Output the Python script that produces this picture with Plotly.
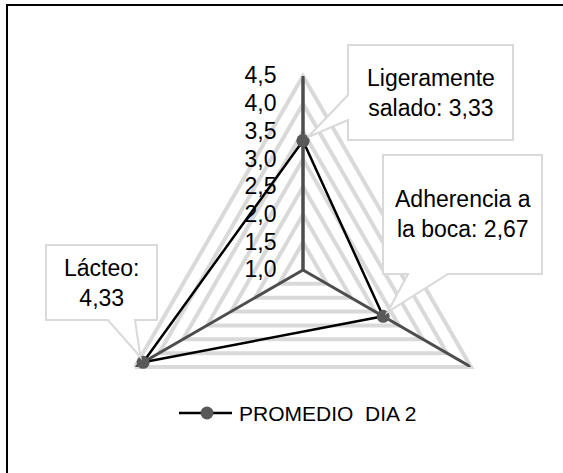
import math
import textwrap
import plotly.graph_objects as go

# ---- data ----
categories = ["Ligeramente salado", "Adherencia a la boca", "Lácteo"]
values = [3.33, 2.67, 4.33]
series_name = "PROMEDIO\u00a0 DIA 2"
r_min, r_max, r_step = 1.0, 4.5, 0.5

# ---- page / polar geometry (pixels) ----
W, H = 563, 473
cx, cy, R = 303, 270, 194

FONT = "Arial, Liberation Sans, sans-serif"
GRID = "#d9d9d9"
SPOKE = "#4d4d4d"
MARKER = "#595959"


def px_x(x):
    return x / W


def px_y(y):
    return 1 - y / H


def point_px(i, v):
    """Pixel position of value v on the i-th spoke (clockwise from top)."""
    theta = math.radians(90 - 360 * i / len(categories))
    r = (v - r_min) / (r_max - r_min) * R
    return cx + r * math.cos(theta), cy - r * math.sin(theta)


def fmt(v):
    return f"{v:.2f}".replace(".", ",")


fig = go.Figure()

# category spokes, drawn over the ring gridlines
spoke_r, spoke_t = [], []
for c in categories:
    spoke_r += [r_min, r_max, None]
    spoke_t += [c, c, c]
fig.add_trace(go.Scatterpolar(
    r=spoke_r, theta=spoke_t, mode="lines",
    line=dict(color=SPOKE, width=3),
    showlegend=False, hoverinfo="skip",
))

fig.add_trace(go.Scatterpolar(
    r=values + values[:1],
    theta=categories + categories[:1],
    mode="lines+markers",
    name=series_name,
    line=dict(color="#000000", width=2.5),
    marker=dict(color=MARKER, size=13, line=dict(width=0)),
    showlegend=False,
    hoverinfo="skip",
))

# ---- callouts: box with a pointer towards each point ----
# (box left, top, right, bottom), pointer side, pointer base span, wrap width
callouts = [
    ((348, 45, 513, 140), "left", (95, 120), 12),
    ((383, 155, 542, 274), "bottom", (408, 448), 13),
    ((46, 245, 157, 320), "bottom", (108, 135), 8),
]

shapes = []
annotations = []
for i, (box, side, (a, b), wrap) in enumerate(callouts):
    x0, y0, x1, y1 = box
    px, py = point_px(i, values[i])
    if side == "left":
        mx, my = x0, (a + b) / 2
    else:
        mx, my = (a + b) / 2, y1
    d = math.hypot(mx - px, my - py)
    tx, ty = px + 6 * (mx - px) / d, py + 6 * (my - py) / d
    if side == "left":
        pts = [(x0, y0), (x1, y0), (x1, y1), (x0, y1), (x0, b), (tx, ty), (x0, a)]
    else:
        pts = [(x0, y0), (x1, y0), (x1, y1), (b, y1), (tx, ty), (a, y1), (x0, y1)]
    path = "M " + " L ".join(f"{px_x(x):.5f},{px_y(y):.5f}" for x, y in pts) + " Z"
    shapes.append(dict(type="path", path=path, xref="paper", yref="paper",
                       line=dict(color=GRID, width=2), fillcolor="white",
                       layer="above"))
    label = "<br>".join(textwrap.wrap(f"{categories[i]}: {fmt(values[i])}", wrap))
    annotations.append(dict(text=label, x=px_x((x0 + x1) / 2), y=px_y((y0 + y1) / 2),
                            xref="paper", yref="paper", showarrow=False,
                            xanchor="center", yanchor="middle", align="center",
                            font=dict(family=FONT, size=23, color="#000000")))

# ---- legend ----
lg_y = 413
shapes.append(dict(type="line", xref="paper", yref="paper",
                   x0=px_x(179), x1=px_x(232), y0=px_y(lg_y), y1=px_y(lg_y),
                   line=dict(color="#000000", width=2.5)))
shapes.append(dict(type="circle", xref="paper", yref="paper",
                   x0=px_x(207 - 6.5), x1=px_x(207 + 6.5),
                   y0=px_y(lg_y - 6.5), y1=px_y(lg_y + 6.5),
                   fillcolor=MARKER, line=dict(width=0)))
annotations.append(dict(text=series_name, x=px_x(237), y=px_y(lg_y),
                        xref="paper", yref="paper", showarrow=False,
                        xanchor="left", yanchor="middle",
                        font=dict(family=FONT, size=21, color="#000000")))

# ---- chart frame (left and top edges) ----
shapes.append(dict(type="line", xref="paper", yref="paper",
                   x0=px_x(7), x1=px_x(7), y0=px_y(4), y1=0,
                   line=dict(color="#000000", width=2)))
shapes.append(dict(type="line", xref="paper", yref="paper",
                   x0=px_x(6), x1=1, y0=px_y(5), y1=px_y(5),
                   line=dict(color="#000000", width=2)))

n_ticks = int(round((r_max - r_min) / r_step)) + 1
tickvals = [r_min + k * r_step for k in range(n_ticks)]

fig.update_layout(
    width=W, height=H,
    margin=dict(l=0, r=0, t=0, b=0),
    paper_bgcolor="white",
    separators=", ",
    polar=dict(
        domain=dict(x=[px_x(cx - R), px_x(cx + R)], y=[px_y(cy + R), px_y(cy - R)]),
        bgcolor="rgba(0,0,0,0)",
        gridshape="linear",
        radialaxis=dict(
            range=[r_min, r_max], tickvals=tickvals, tickformat=".1f",
            angle=90, side="counterclockwise", tickangle=90,
            ticks="outside", ticklen=17, tickcolor="rgba(0,0,0,0)",
            showline=True, linecolor=SPOKE, linewidth=3,
            gridcolor=GRID, gridwidth=4,
            tickfont=dict(family=FONT, size=23, color="#000000"),
            layer="below traces",
        ),
        angularaxis=dict(
            rotation=90, direction="clockwise",
            showticklabels=False, ticks="", showgrid=False,
            showline=True, linecolor=GRID, linewidth=4,
            layer="below traces",
        ),
    ),
    shapes=shapes,
    annotations=annotations,
)

fig.write_html("out.html")
